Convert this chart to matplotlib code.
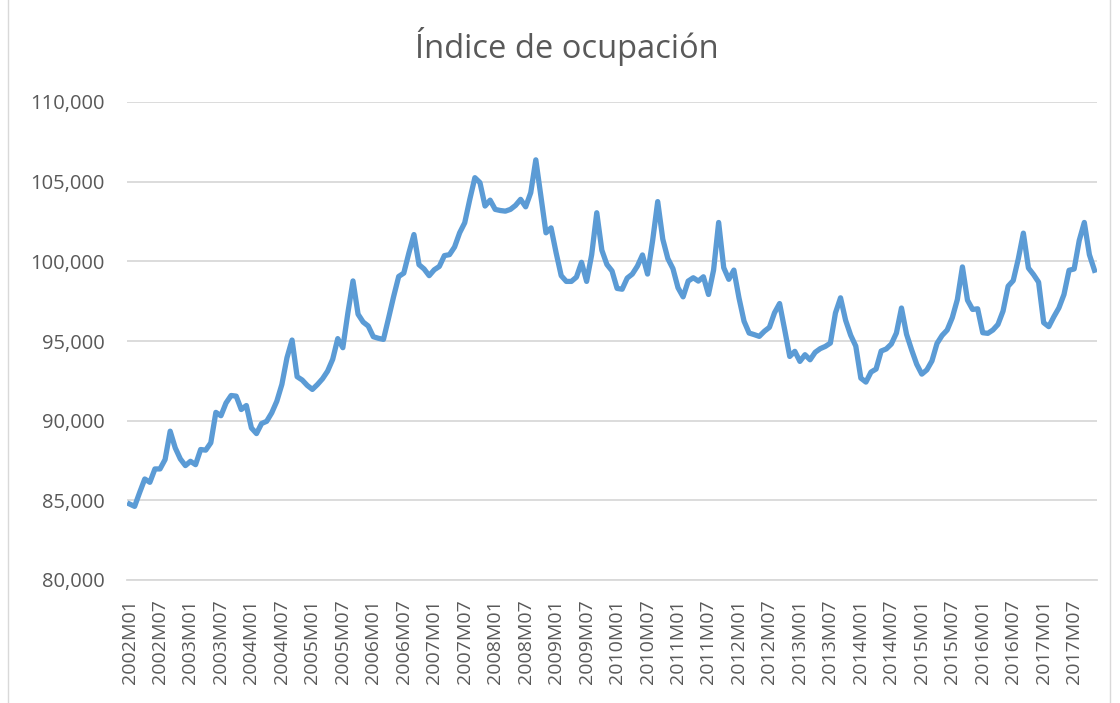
import matplotlib.pyplot as plt
from matplotlib.ticker import FuncFormatter

# Índice de ocupación, monthly, 2002M01 .. 2017M11
y2002 = [84770, 84620, 85500, 86340, 86130, 86970, 86970, 87560, 89340, 88290, 87600, 87180]
y2003 = [87450, 87240, 88190, 88150, 88610, 90520, 90310, 91110, 91580, 91540, 90700, 90950]
y2004 = [89540, 89190, 89820, 89960, 90490, 91220, 92280, 93950, 95060, 92760, 92550, 92210]
y2005 = [91960, 92270, 92630, 93110, 93850, 95150, 94580, 96780, 98770, 96680, 96190, 95940]
y2006 = [95270, 95170, 95100, 96430, 97790, 99050, 99260, 100520, 101680, 99790, 99520, 99100]
y2007 = [99470, 99680, 100360, 100420, 100900, 101790, 102420, 103890, 105250, 104940, 103470, 103840]
y2008 = [103260, 103190, 103150, 103260, 103510, 103890, 103420, 104310, 106370, 104100, 101790, 102100]
y2009 = [100530, 99100, 98740, 98740, 99010, 99940, 98740, 100420, 103050, 100700, 99800, 99400]
y2010 = [98300, 98250, 98950, 99200, 99700, 100400, 99200, 101300, 103750, 101390, 100170, 99540]
y2011 = [98340, 97770, 98760, 98970, 98760, 99030, 97920, 99450, 102440, 99600, 98870, 99450]
y2012 = [97710, 96240, 95500, 95400, 95290, 95610, 95860, 96770, 97350, 95710, 94030, 94350]
y2013 = [93720, 94140, 93820, 94290, 94520, 94660, 94870, 96760, 97710, 96300, 95360, 94680]
y2014 = [92670, 92420, 93050, 93240, 94370, 94500, 94810, 95500, 97070, 95420, 94440, 93540]
y2015 = [92920, 93190, 93750, 94850, 95350, 95690, 96460, 97600, 99650, 97560, 96980, 97020]
y2016 = [95520, 95480, 95690, 96040, 96880, 98440, 98790, 100150, 101770, 99580, 99170, 98690]
y2017 = [96150, 95900, 96520, 97080, 97920, 99440, 99520, 101310, 102440, 100420, 99440]

years = list(range(2002, 2018))
values = (y2002 + y2003 + y2004 + y2005 + y2006 + y2007 + y2008 + y2009
          + y2010 + y2011 + y2012 + y2013 + y2014 + y2015 + y2016 + y2017)
periods = [f"{y}M{m:02d}" for y in years for m in range(1, 13)][:len(values)]

plt.rcParams['font.family'] = ['Open Sans', 'DejaVu Sans']
grey = '#595959'

fig = plt.figure(figsize=(11.2, 7.03), dpi=100)
ax = fig.add_axes([127 / 1120, 1 - 580 / 703, 970 / 1120, 478 / 703])

x = list(range(len(values)))
ax.plot(x, values, color='#5b9bd5', linewidth=3.8, solid_joinstyle='round', zorder=3)

ax.set_xlim(-0.5, len(values) - 0.5)
ax.set_ylim(80000, 110000)
ax.set_yticks(range(80000, 110001, 5000))
ax.yaxis.set_major_formatter(FuncFormatter(lambda v, p: f"{int(v):,}"))
ax.set_xticks(x[::6])
ax.set_xticklabels(periods[::6], rotation=90)

ax.grid(axis='y', color='#d9d9d9', linewidth=1.3)
ax.set_axisbelow(True)
for s in ['top', 'right', 'left']:
    ax.spines[s].set_visible(False)
ax.spines['bottom'].set_color('#d9d9d9')
ax.spines['bottom'].set_linewidth(1.3)
ax.tick_params(axis='both', length=0, colors=grey)
ax.tick_params(axis='x', pad=14, labelsize=14)
ax.tick_params(axis='y', pad=16, labelsize=14.5)

fig.text(567 / 1120, 1 - 47 / 703, 'Índice de ocupación', ha='center', va='center',
         fontsize=23.5, color=grey)

# chart frame edges
fig.add_artist(plt.Line2D([8 / 1120, 8 / 1120], [0, 1], color='#d9d9d9', linewidth=1))
fig.add_artist(plt.Line2D([1110 / 1120, 1110 / 1120], [0, 1], color='#d9d9d9', linewidth=1))

fig.savefig('out.png', dpi=100)
